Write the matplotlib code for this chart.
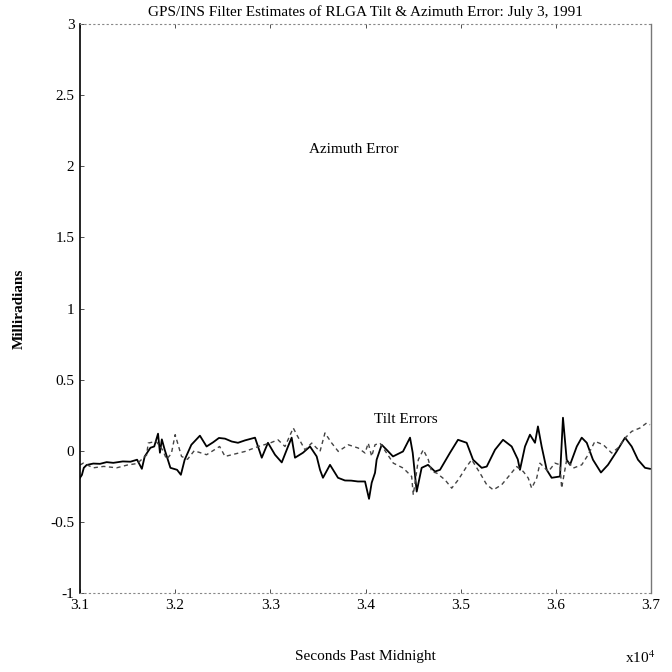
import matplotlib
matplotlib.use("Agg")
import matplotlib.pyplot as plt

# ---- data (x in units of 1e4 seconds past midnight, y in milliradians) ----
x_solid = [3.100, 3.102, 3.104, 3.107, 3.114, 3.121, 3.128, 3.135, 3.145, 3.153,
           3.160, 3.165, 3.168, 3.174, 3.178, 3.182, 3.184, 3.186, 3.189, 3.195,
           3.202, 3.206, 3.210, 3.217, 3.226, 3.233, 3.240, 3.246, 3.2524, 3.2594,
           3.266, 3.2734, 3.2839, 3.291, 3.2975, 3.3049, 3.312, 3.3186, 3.3224, 3.3259,
           3.3343, 3.3417, 3.3487, 3.3522, 3.3553, 3.3627, 3.3711, 3.3784, 3.385, 3.392,
           3.3995, 3.4037, 3.4065, 3.410, 3.4117, 3.417, 3.4222, 3.4289, 3.4394, 3.4468,
           3.4496, 3.4538, 3.459, 3.4657, 3.473, 3.4783, 3.4888, 3.4972, 3.5063, 3.513,
           3.5221, 3.5274, 3.5361, 3.5445, 3.5536, 3.560, 3.5623, 3.5676, 3.5728, 3.5781,
           3.5812, 3.5851, 3.5904, 3.5956, 3.6044, 3.6075, 3.6114, 3.6149, 3.622, 3.6272,
           3.6325, 3.639, 3.6474, 3.6548, 3.6639, 3.6727, 3.6797, 3.6863, 3.6937, 3.699]
y_solid = [-0.19, -0.17, -0.12, -0.10, -0.09, -0.092, -0.08, -0.085, -0.075, -0.077,
           -0.063, -0.127, -0.040, 0.021, 0.03, 0.120, -0.014, 0.080, 0.007, -0.120,
           -0.134, -0.169, -0.063, 0.042, 0.106, 0.030, 0.060, 0.090, 0.085, 0.065,
           0.056, 0.073, 0.092, -0.049, 0.056, -0.028, -0.082, 0.030, 0.092, -0.049,
           -0.014, 0.030, -0.040, -0.134, -0.190, -0.099, -0.190, -0.209, -0.21, -0.216,
           -0.216, -0.338, -0.225, -0.155, -0.063, 0.042, 0.007, -0.040, -0.005, 0.092,
           -0.014, -0.287, -0.120, -0.099, -0.146, -0.134, -0.014, 0.077, 0.056, -0.063,
           -0.120, -0.111, 0.007, 0.077, 0.030, -0.06, -0.134, 0.030, 0.113, 0.056,
           0.171, 0.030, -0.134, -0.190, -0.181, 0.232, -0.063, -0.099, 0.030, 0.092,
           0.056, -0.063, -0.153, -0.099, -0.005, 0.092, 0.030, -0.063, -0.120, -0.127]

x_dash = [3.100, 3.1035, 3.114, 3.125, 3.1385, 3.150, 3.160, 3.170, 3.1717, 3.180,
          3.1867, 3.191, 3.196, 3.200, 3.2067, 3.213, 3.220, 3.233, 3.2467, 3.2524,
          3.2734, 3.2874, 3.2996, 3.308, 3.3154, 3.3241, 3.3277, 3.3364, 3.3435, 3.3522,
          3.3574, 3.3645, 3.3714, 3.3819, 3.3924, 3.3995, 3.4029, 3.4065, 3.410, 3.4152,
          3.4292, 3.4397, 3.4485, 3.4502, 3.4555, 3.4607, 3.466, 3.4695, 3.4748, 3.4835,
          3.4906, 3.4975, 3.5063, 3.5116, 3.5203, 3.5274, 3.5343, 3.5431, 3.5518, 3.5588,
          3.5658, 3.571, 3.5746, 3.5799, 3.5833, 3.5921, 3.5991, 3.6044, 3.6061, 3.6114,
          3.6183, 3.6272, 3.6338, 3.6411, 3.6499, 3.6587, 3.6653, 3.6727, 3.6797, 3.6884,
          3.6954, 3.699]
y_dash = [-0.10, -0.087, -0.12, -0.11, -0.12, -0.10, -0.09, -0.03, 0.054, 0.066,
          0.007, -0.06, -0.02, 0.113, -0.04, -0.06, 0.00, -0.028, 0.030, -0.04,
          -0.005, 0.03, 0.054, 0.077, 0.03, 0.16, 0.113, 0.007, 0.054, -0.005,
          0.125, 0.054, -0.005, 0.042, 0.019, -0.016, 0.054, -0.04, 0.042, 0.054,
          -0.087, -0.122, -0.181, -0.31, -0.063, 0.007, -0.063, -0.146, -0.157, -0.204,
          -0.263, -0.204, -0.111, -0.063, -0.157, -0.239, -0.275, -0.239, -0.169, -0.111,
          -0.146, -0.192, -0.263, -0.192, -0.087, -0.146, -0.087, -0.099, -0.263, -0.063,
          -0.122, -0.099, -0.03, 0.066, 0.042, -0.016, 0.02, 0.089, 0.136, 0.160,
          0.195, 0.183]

x_ticks = [3.1, 3.2, 3.3, 3.4, 3.5, 3.6, 3.7]
x_tick_labels = ["3.1", "3.2", "3.3", "3.4", "3.5", "3.6", "3.7"]
y_ticks = [-1, -0.5, 0, 0.5, 1, 1.5, 2, 2.5, 3]
y_tick_labels = ["-1", "-0.5", "0", "0.5", "1", "1.5", "2", "2.5", "3"]

title = "GPS/INS Filter Estimates of RLGA Tilt & Azimuth Error: July 3, 1991"

# ---- styling ----
plt.rcParams['font.family'] = ['Liberation Serif', 'DejaVu Serif']
plt.rcParams['mathtext.fontset'] = 'stix'

fig = plt.figure(figsize=(6.72, 6.72), dpi=100)
ax = fig.add_axes([80 / 672, 1 - 593 / 672, 571 / 672, 569 / 672])

ax.plot(x_solid, y_solid, color='black', linewidth=1.3)
ax.plot(x_dash, y_dash, color='#444444', linewidth=1.0, linestyle=(0, (3, 2.5)))

ax.set_xlim(3.1, 3.7)
ax.set_ylim(-1, 3)
ax.set_xticks(x_ticks)
ax.set_xticklabels(x_tick_labels, fontsize=11)
ax.set_yticks(y_ticks)
ax.set_yticklabels(y_tick_labels, fontsize=11)
ax.tick_params(direction='in', length=3, width=0.6, top=True, right=False,
               colors='#333333', labelcolor='black', pad=4)

for side in ['top', 'bottom']:
    ax.spines[side].set_linestyle((0, (1, 3)))
    ax.spines[side].set_color('#888888')
    ax.spines[side].set_linewidth(0.8)
ax.spines['left'].set_color('black')
ax.spines['left'].set_linewidth(1.2)
ax.spines['right'].set_color('#777777')
ax.spines['right'].set_linewidth(1.0)

ax.set_title(title, fontsize=11, pad=6)
ax.set_ylabel("Milliradians", fontsize=11, fontweight='bold', labelpad=18)
ax.set_xlabel("Seconds Past Midnight", fontsize=11, labelpad=28)
fig.text(0.952, 0.022, r"x10$^{4}$", fontsize=11, ha='center', va='center')

ax.text(3.388, 2.12, "Azimuth Error", fontsize=11, ha='center', va='center')
ax.text(3.4425, 0.22, "Tilt Errors", fontsize=11, ha='center', va='center')

fig.savefig("out.png", dpi=100)
